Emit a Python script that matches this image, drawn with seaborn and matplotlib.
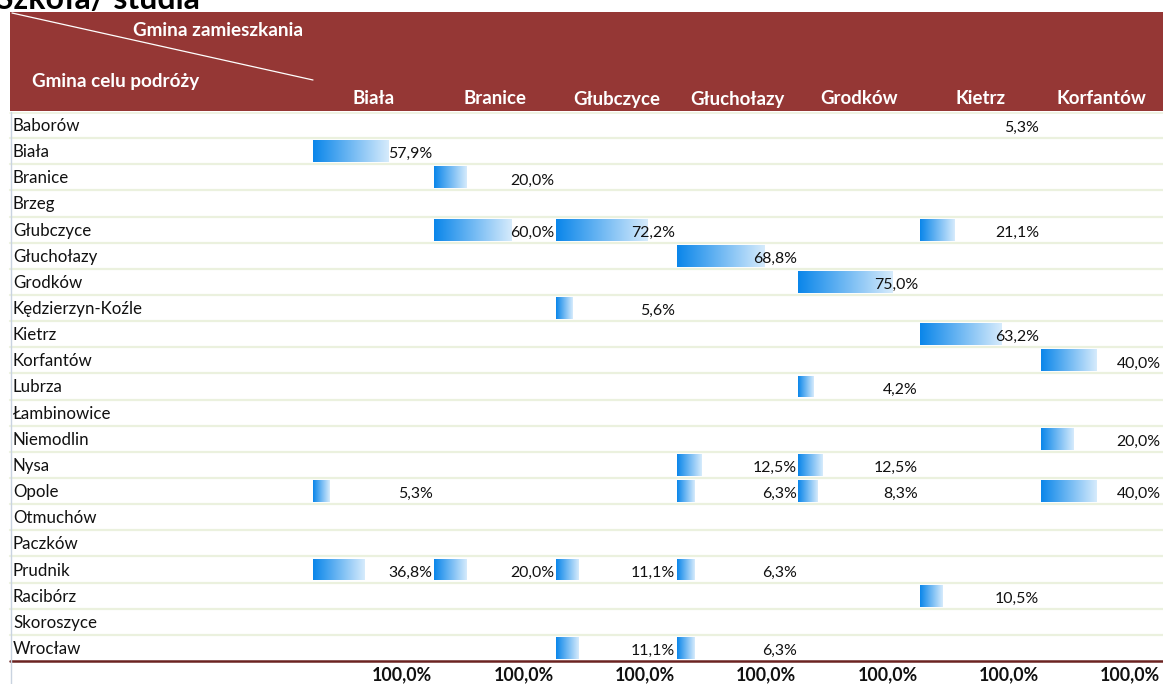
import numpy as np
import pandas as pd
import matplotlib
matplotlib.use("Agg")
import matplotlib.pyplot as plt
from matplotlib.colors import LinearSegmentedColormap
import seaborn as sns

# ---------------- data ----------------
title = "Szkoła/ studia"
header_top = "Gmina zamieszkania"
header_left = "Gmina celu podróży"
destinations = ["Baborów", "Biała", "Branice", "Brzeg", "Głubczyce", "Głuchołazy",
                "Grodków", "Kędzierzyn-Koźle", "Kietrz", "Korfantów", "Lubrza",
                "Łambinowice", "Niemodlin", "Nysa", "Opole", "Otmuchów", "Paczków",
                "Prudnik", "Racibórz", "Skoroszyce", "Wrocław"]
origins = ["Biała", "Branice", "Głubczyce", "Głuchołazy", "Grodków", "Kietrz", "Korfantów"]

biala = {"Biała": 57.9, "Opole": 5.3, "Prudnik": 36.8}
branice = {"Branice": 20.0, "Głubczyce": 60.0, "Prudnik": 20.0}
glubczyce = {"Głubczyce": 72.2, "Kędzierzyn-Koźle": 5.6, "Prudnik": 11.1, "Wrocław": 11.1}
glucholazy = {"Głuchołazy": 68.8, "Nysa": 12.5, "Opole": 6.3, "Prudnik": 6.3, "Wrocław": 6.3}
grodkow = {"Grodków": 75.0, "Lubrza": 4.2, "Nysa": 12.5, "Opole": 8.3}
kietrz = {"Baborów": 5.3, "Głubczyce": 21.1, "Kietrz": 63.2, "Racibórz": 10.5}
korfantow = {"Korfantów": 40.0, "Niemodlin": 20.0, "Opole": 40.0}
column_values = [biala, branice, glubczyce, glucholazy, grodkow, kietrz, korfantow]
totals = [100.0, 100.0, 100.0, 100.0, 100.0, 100.0, 100.0]
# cells shown without a data bar in the source sheet
no_bar_cells = [("Kietrz", "Baborów")]

# ---------------- style ----------------
W, H = 1163, 684
RED = "#953735"
ROWLINE = "#EBF1DE"
FONT = ["Lato", "DejaVu Sans"]
sns.set_theme(style="white")
plt.rcParams["font.family"] = FONT

fig = plt.figure(figsize=(W / 100, H / 100), dpi=100)
bg = fig.add_axes([0, 0, 1, 1])
bg.set_xlim(0, W)
bg.set_ylim(H, 0)
bg.axis("off")

def fmt(v):
    return f"{v:.1f}%".replace(".", ",")

# title (partly hidden at the top like the source)
bg.text(-4, 9, title, fontsize=23, fontweight="bold", color="black",
        ha="left", va="baseline", zorder=1)

# header band
HEAD_TOP, HEAD_BOT = 12, 111
bg.add_patch(plt.Rectangle((10, HEAD_TOP), W - 10, HEAD_BOT - HEAD_TOP,
                           facecolor=RED, edgecolor="none", zorder=2))
bg.plot([12, 313], [13, 80], color="white", lw=0.9, zorder=3)
bg.text(218, 30, header_top, color="white", fontsize=13.6, fontweight="bold",
        ha="center", va="center", zorder=3)
bg.text(116, 81, header_left, color="white", fontsize=13.6, fontweight="bold",
        ha="center", va="center", zorder=3)

COL0, COLW = 313.0, 121.3
ROW_TOP, ROW_BOT = 112.0, 661.0
n_rows = len(destinations)
row_h = (ROW_BOT - ROW_TOP) / n_rows

for j, name in enumerate(origins):
    cx = COL0 + COLW * (j + 0.5)
    bg.text(cx, 99, name, color="white", fontsize=13.4, fontweight="bold",
            ha="center", va="center", zorder=3)

# row separators and labels
for i, d in enumerate(destinations):
    y_top = ROW_TOP + i * row_h
    y_bot = y_top + row_h
    if i < n_rows - 1:
        bg.plot([10, W], [y_bot, y_bot], color=ROWLINE, lw=1.6, zorder=1)
    bg.text(13, (y_top + y_bot) / 2 + 1, d, fontsize=12.2, color="#111111",
            ha="left", va="center", zorder=3)
bg.plot([10, W], [ROW_TOP + 0.5, ROW_TOP + 0.5], color=ROWLINE, lw=1.2, zorder=1)
bg.plot([10, W], [ROW_BOT, ROW_BOT], color="#6B2321", lw=1.8, zorder=4)
bg.plot([10.5, 10.5], [ROW_TOP, H], color="#C9D3E0", lw=1.0, zorder=4)

# totals
for j, t in enumerate(totals):
    right = COL0 + COLW * (j + 1) - 2
    bg.text(right, 675, fmt(t), fontsize=12.8, fontweight="bold", color="#111111",
            ha="right", va="center", zorder=3)

# data bars: Excel-like data bar with a minimum length
MIN_PX, PX_PER_PCT = 10.5, 1.125
cmap = LinearSegmentedColormap.from_list("db", ["#0A86EA", "#D6EBFC"])
grad = np.linspace(0, 1, 256).reshape(1, -1)

for j, (name, vals) in enumerate(zip(origins, column_values)):
    x0 = COL0 + COLW * j
    ax = fig.add_axes([x0 / W, 1 - ROW_BOT / H, COLW / W, (ROW_BOT - ROW_TOP) / H])
    ax.patch.set_alpha(0)
    df = pd.DataFrame({"dest": destinations,
                       "value": [vals.get(d, np.nan) for d in destinations]})
    df["show"] = [(name, d) not in no_bar_cells and not np.isnan(v)
                  for d, v in zip(df["dest"], df["value"])]
    df["barlen"] = np.where(df["show"], MIN_PX / PX_PER_PCT + df["value"], np.nan)
    sns.barplot(data=df, x="barlen", y="dest", order=destinations, orient="h",
                width=0.84, color="#0A86EA", ax=ax, saturation=1)
    xmax = COLW / PX_PER_PCT
    ax.set_xlim(0, xmax)
    ax.set_ylim(n_rows - 0.5, -0.5)
    for p in list(ax.patches):
        w = p.get_width()
        if not np.isfinite(w) or w <= 0:
            continue
        bx, by, bh = p.get_x(), p.get_y(), p.get_height()
        im = ax.imshow(grad, cmap=cmap, aspect="auto",
                       extent=(bx, bx + w, by + bh, by), zorder=2)
        im.set_clip_path(p)
        p.set_facecolor("none")
        p.set_edgecolor("none")
    ax.set_xlim(0, xmax)
    ax.set_ylim(n_rows - 0.5, -0.5)
    ax.axis("off")
    # value labels, right-aligned in the cell
    for i, v in enumerate(df["value"]):
        if np.isfinite(v):
            ax.text(xmax - 1.5 / PX_PER_PCT, i + 0.12, fmt(v), fontsize=11.4,
                    color="#111111", ha="right", va="center", zorder=3)

fig.savefig("out.png", dpi=100)
